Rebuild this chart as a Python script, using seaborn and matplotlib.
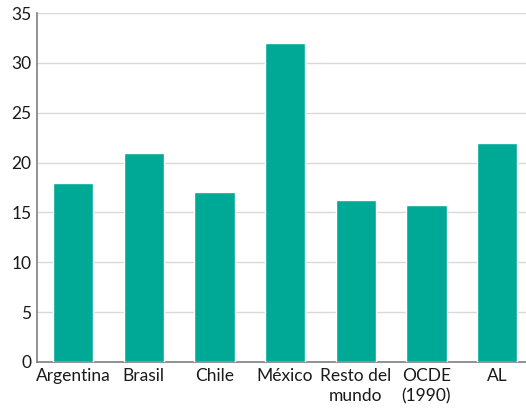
import matplotlib
matplotlib.use("Agg")
import matplotlib.pyplot as plt
import seaborn as sns
import pandas as pd

# data
countries = ["Argentina", "Brasil", "Chile", "México", "Resto del\nmundo", "OCDE\n(1990)", "AL"]
values = [18.0, 21.0, 17.0, 32.0, 16.2, 15.7, 22.0]
y_ticks = [0, 5, 10, 15, 20, 25, 30, 35]

BAR_COLOR = "#00a896"
GRID_COLOR = "#d9d9d9"
SPINE_COLOR = "#7f7f7f"


def main():
    sns.set_theme(style="white")
    plt.rcParams["font.family"] = ["Lato", "DejaVu Sans"]

    df = pd.DataFrame({"country": countries, "value": values})

    fig = plt.figure(figsize=(5.26, 4.09), dpi=100)
    ax = fig.add_axes([37 / 526, 47 / 409, 1 - 37 / 526, (362 - 13) / 409])

    sns.barplot(data=df, x="country", y="value", color=BAR_COLOR,
                saturation=1, width=0.57, ax=ax, zorder=3)

    ax.set_ylim(0, 35)
    ax.set_xlim(-0.51, 6.41)
    ax.set_yticks(y_ticks)
    ax.yaxis.grid(True, color=GRID_COLOR, linewidth=1, zorder=0)
    ax.set_axisbelow(True)

    ax.set_xlabel("")
    ax.set_ylabel("")
    ax.tick_params(axis="both", labelsize=12.5, colors="#1a1a1a", length=0, pad=4)
    for lbl in ax.get_xticklabels():
        lbl.set_linespacing(1.35)

    for side in ["top", "right"]:
        ax.spines[side].set_visible(False)
    for side in ["left", "bottom"]:
        ax.spines[side].set_color(SPINE_COLOR)
        ax.spines[side].set_linewidth(1.2)

    plt.savefig("out.png", dpi=100)
    plt.close()


if __name__ == "__main__":
    main()
